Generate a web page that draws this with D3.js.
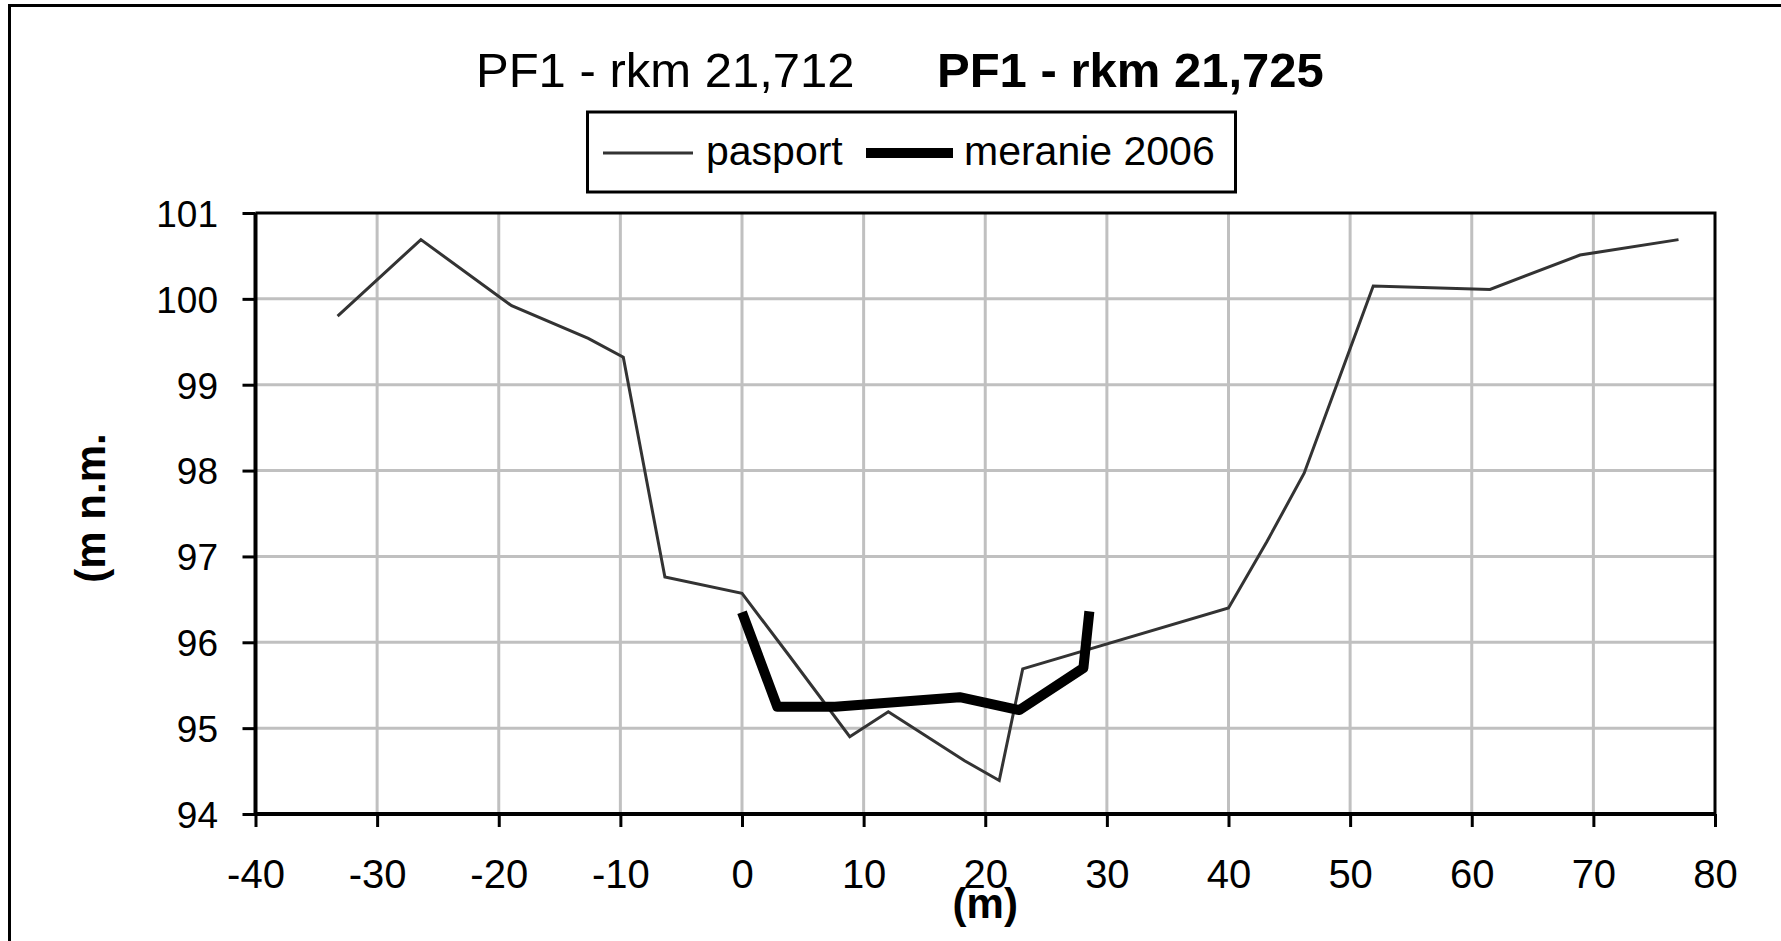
<!DOCTYPE html>
<html>
<head>
<meta charset="utf-8">
<script src="https://cdn.jsdelivr.net/npm/d3@7"></script>
<style>
  body { margin: 0; background: #fff; }
  text { font-family: 'Liberation Sans', Arial, sans-serif; }
</style>
</head>
<body>
<div id="chart"></div>
<script>
// data
let pasportX = [-33.25, -26.4, -18.94, -12.64, -9.76, -6.34, 0, 3.9, 8.86, 12.03, 18.3, 21.15, 23.08, 40, 43.15, 46.22, 51.9, 61.5, 68.9, 77.0]
let pasportY = [99.8, 100.69, 99.92, 99.54, 99.32, 96.76, 96.57, 95.84, 94.9, 95.19, 94.62, 94.39, 95.69, 96.4, 97.17, 97.97, 100.15, 100.11, 100.51, 100.69]

let meranieX = [0, 2.9, 7.65, 17.9, 22.8, 28.07, 28.56]
let meranieY = [96.35, 95.25, 95.25, 95.36, 95.21, 95.7, 96.36]

let xTicks = [-40, -30, -20, -10, 0, 10, 20, 30, 40, 50, 60, 70, 80]
let yTicks = [94, 95, 96, 97, 98, 99, 100, 101]

let titleParts = ['PF1 - rkm 21,712', 'PF1 - rkm 21,725']
let seriesNames = ['pasport', 'meranie 2006']
let xTitle = '(m)'
let yTitle = '(m n.m.'

let W = 1781
let H = 941
let margin = { top: 213, left: 255.5, right: 66, bottom: 127 }
let width = W - margin.left - margin.right
let height = H - margin.top - margin.bottom

let root = d3
  .select('#chart')
  .append('svg')
  .attr('width', W)
  .attr('height', H)

// outer chart frame (runs off the right and bottom edge)
root
  .append('rect')
  .attr('x', 9.5)
  .attr('y', 5.5)
  .attr('width', W + 20)
  .attr('height', H + 20)
  .attr('fill', 'none')
  .attr('stroke', '#000')
  .attr('stroke-width', 3)

let svg = root
  .append('g')
  .attr('transform', 'translate(' + margin.left + ',' + margin.top + ')')

let xPositionScale = d3.scaleLinear().domain([-40, 80]).range([0, width])
let yPositionScale = d3.scaleLinear().domain([94, 101]).range([height, 0])

// gridlines
svg
  .selectAll('.vgrid')
  .data(xTicks.slice(1, -1))
  .enter()
  .append('line')
  .attr('class', 'vgrid')
  .attr('x1', d => xPositionScale(d))
  .attr('x2', d => xPositionScale(d))
  .attr('y1', 0)
  .attr('y2', height)
  .attr('stroke', '#c0c0c0')
  .attr('stroke-width', 3)

svg
  .selectAll('.hgrid')
  .data(yTicks.slice(1, -1))
  .enter()
  .append('line')
  .attr('class', 'hgrid')
  .attr('x1', 0)
  .attr('x2', width)
  .attr('y1', d => yPositionScale(d))
  .attr('y2', d => yPositionScale(d))
  .attr('stroke', '#c0c0c0')
  .attr('stroke-width', 3)

// plot frame, top and right
svg
  .append('path')
  .attr('d', 'M0,0H' + width + 'V' + height)
  .attr('fill', 'none')
  .attr('stroke', '#000')
  .attr('stroke-width', 3)

// axes
let xAxis = d3
  .axisBottom(xPositionScale)
  .tickValues(xTicks)
  .tickFormat(d => String(d))
  .tickSize(13)
  .tickPadding(32.6)
svg
  .append('g')
  .attr('class', 'axis x-axis')
  .attr('transform', 'translate(0,' + height + ')')
  .call(xAxis)

let yAxis = d3
  .axisLeft(yPositionScale)
  .tickValues(yTicks)
  .tickFormat(d => String(d))
  .tickSize(13)
  .tickPadding(24.5)
svg
  .append('g')
  .attr('class', 'axis y-axis')
  .call(yAxis)

svg.selectAll('.axis .domain').remove()
svg.selectAll('.axis .tick line').attr('stroke', '#000').attr('stroke-width', 3)
svg.selectAll('.x-axis text').attr('font-size', 40).attr('fill', '#000')
svg
  .selectAll('.y-axis text')
  .attr('font-size', 37)
  .attr('fill', '#000')
  .attr('dy', '0.36em')

// left and bottom axis lines
svg
  .append('path')
  .attr('d', 'M0,0V' + height + 'H' + width)
  .attr('fill', 'none')
  .attr('stroke', '#000')
  .attr('stroke-width', 4)

let line = d3
  .line()
  .x(d => xPositionScale(d[0]))
  .y(d => yPositionScale(d[1]))

svg
  .append('path')
  .attr('class', 'pasport-line')
  .attr('d', line(d3.zip(pasportX, pasportY)))
  .attr('fill', 'none')
  .attr('stroke', '#333')
  .attr('stroke-width', 3)

svg
  .append('path')
  .attr('class', 'meranie-line')
  .attr('d', line(d3.zip(meranieX, meranieY)))
  .attr('fill', 'none')
  .attr('stroke', '#000')
  .attr('stroke-width', 10)
  .attr('stroke-linejoin', 'round')

// axis titles
svg
  .append('text')
  .attr('x', width / 2)
  .attr('y', 918 - margin.top)
  .attr('text-anchor', 'middle')
  .attr('font-size', 42)
  .attr('font-weight', 'bold')
  .text(xTitle)

root
  .append('text')
  .attr('transform', 'translate(105,508) rotate(-90)')
  .attr('text-anchor', 'middle')
  .attr('font-size', 42)
  .attr('font-weight', 'bold')
  .text(yTitle)

// title
root
  .append('text')
  .attr('x', 476)
  .attr('y', 87)
  .attr('font-size', 49)
  .text(titleParts[0])

root
  .append('text')
  .attr('x', 937)
  .attr('y', 87)
  .attr('font-size', 49)
  .attr('font-weight', 'bold')
  .text(titleParts[1])

// legend
let legend = root.append('g').attr('class', 'legend')
legend
  .append('rect')
  .attr('x', 587.5)
  .attr('y', 112)
  .attr('width', 648)
  .attr('height', 80)
  .attr('fill', '#fff')
  .attr('stroke', '#000')
  .attr('stroke-width', 3)

let legendItems = [
  { name: seriesNames[0], x1: 603, x2: 693, tx: 706, stroke: '#333', w: 3 },
  { name: seriesNames[1], x1: 866, x2: 953, tx: 964, stroke: '#000', w: 10 }
]

legend
  .selectAll('.legend-line')
  .data(legendItems)
  .enter()
  .append('line')
  .attr('class', 'legend-line')
  .attr('x1', d => d.x1)
  .attr('x2', d => d.x2)
  .attr('y1', 153)
  .attr('y2', 153)
  .attr('stroke', d => d.stroke)
  .attr('stroke-width', d => d.w)

legend
  .selectAll('.legend-text')
  .data(legendItems)
  .enter()
  .append('text')
  .attr('class', 'legend-text')
  .attr('x', d => d.tx)
  .attr('y', 165)
  .attr('font-size', 41)
  .text(d => d.name)
</script>
</body>
</html>
